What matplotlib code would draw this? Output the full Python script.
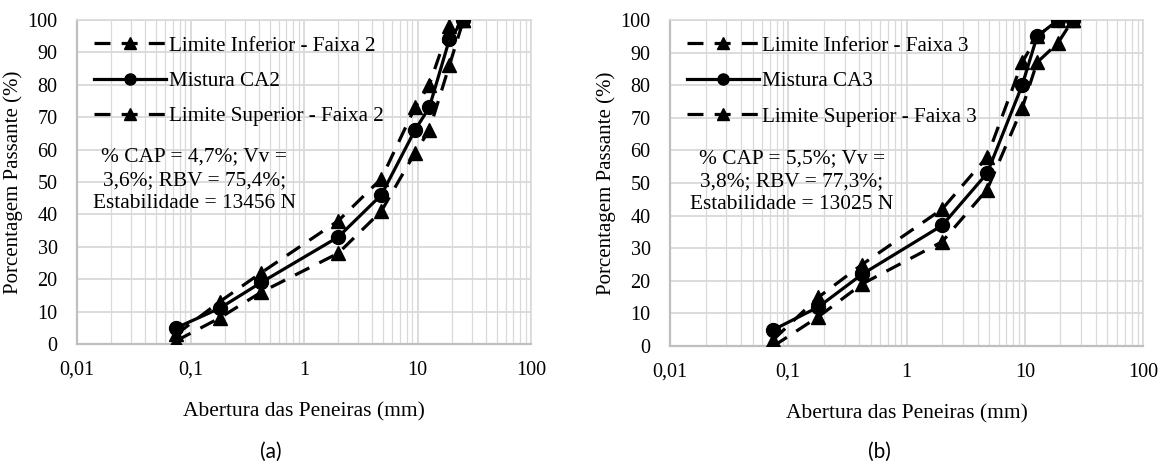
import matplotlib
matplotlib.use("Agg")
import matplotlib.pyplot as plt
from matplotlib.ticker import LogLocator, FixedLocator, NullFormatter

plt.rcParams.update({
    "font.family": "serif",
    "font.serif": ["Liberation Serif", "DejaVu Serif"],
})

# sieve openings (mm)
sieves = [0.075, 0.18, 0.42, 2.0, 4.8, 9.5, 12.7, 19.1, 25.4]

# panel (a) - Faixa 2
inf_a = [1, 8, 16, 28, 41, 59, 66, 86, 100]
mix_a = [5, 11, 19, 33, 46, 66, 73, 94, 100]
sup_a = [3, 13, 22, 38, 51, 73, 80, 98, 100]

# panel (b) - Faixa 3
inf_b = [0, 9, 19, 32, 48, 73, 87, 93, 100]
mix_b = [5, 12, 22, 37, 53, 80, 95, 100, 100]
sup_b = [2, 15, 25, 42, 58, 87, 95, 100, 100]

xticks = [0.01, 0.1, 1, 10, 100]
xticklabels = ["0,01", "0,1", "1", "10", "100"]

grid_c = "#d9d9d9"


def panel(ax, inf, mix, sup, faixa, mistura, note):
    ax.plot(sieves, inf, ls=(0, (5, 3.5)), color="black", lw=2.3, marker="^",
            ms=10, label=f"Limite Inferior - Faixa {faixa}", zorder=3)
    ax.plot(sieves, mix, ls="-", color="black", lw=2.3, marker="o",
            ms=10, label=f"Mistura {mistura}", zorder=4)
    ax.plot(sieves, sup, ls=(0, (5, 3.5)), color="black", lw=2.3, marker="^",
            ms=10, label=f"Limite Superior - Faixa {faixa}", zorder=3)
    ax.set_xscale("log")
    ax.set_xlim(0.01, 100)
    ax.set_ylim(0, 100)
    ax.xaxis.set_major_locator(FixedLocator(xticks))
    ax.set_xticklabels(xticklabels)
    ax.xaxis.set_minor_locator(LogLocator(base=10, subs=range(2, 10)))
    ax.xaxis.set_minor_formatter(NullFormatter())
    ax.set_yticks(range(0, 101, 10))
    ax.grid(True, which="major", color=grid_c, lw=1.3)
    ax.grid(True, which="minor", axis="x", color=grid_c, lw=0.9)
    ax.set_axisbelow(True)
    for s in ax.spines.values():
        s.set_color(grid_c)
        s.set_linewidth(1.2)
    ax.spines["left"].set_color("#bfbfbf")
    ax.spines["bottom"].set_color("#bfbfbf")
    ax.spines["left"].set_linewidth(1.6)
    ax.spines["bottom"].set_linewidth(1.6)
    ax.tick_params(axis="both", which="both", length=0, labelsize=14.5)
    ax.tick_params(axis="y", pad=14)
    ax.tick_params(axis="x", pad=12)
    ax.set_ylabel("Porcentagem Passante (%)", fontsize=15, labelpad=3)
    ax.set_xlabel("Abertura das Peneiras (mm)", fontsize=15.5, labelpad=16)
    leg = ax.legend(loc="upper left", bbox_to_anchor=(0.01, 0.99), frameon=False,
                    fontsize=15.2, handlelength=3.4, handletextpad=0.15,
                    labelspacing=0.74, borderaxespad=0.2)
    for h in leg.legend_handles:
        h.set_markersize(8)
    ax.text(0.258, 0.505, note, transform=ax.transAxes, ha="center", va="center",
            fontsize=15.4, linespacing=1.3)


fig = plt.figure(figsize=(11.64, 4.67), dpi=100)
ax1 = fig.add_axes([0.0662, 0.2634, 0.390, 0.694])
ax2 = fig.add_axes([0.5756, 0.259, 0.4064, 0.698])

panel(ax1, inf_a, mix_a, sup_a, 2, "CA2",
      "% CAP = 4,7%; Vv =\n3,6%; RBV = 75,4%;\nEstabilidade = 13456 N")
panel(ax2, inf_b, mix_b, sup_b, 3, "CA3",
      "% CAP = 5,5%; Vv =\n3,8%; RBV = 77,3%;\nEstabilidade = 13025 N")

fig.text(271 / 1164, 1 - 452 / 467, "(a)", ha="center", va="center",
         fontsize=15, family="Lato")
fig.text(879 / 1164, 1 - 452 / 467, "(b)", ha="center", va="center",
         fontsize=15, family="Lato")

fig.savefig("out.png", dpi=100, facecolor="white")
